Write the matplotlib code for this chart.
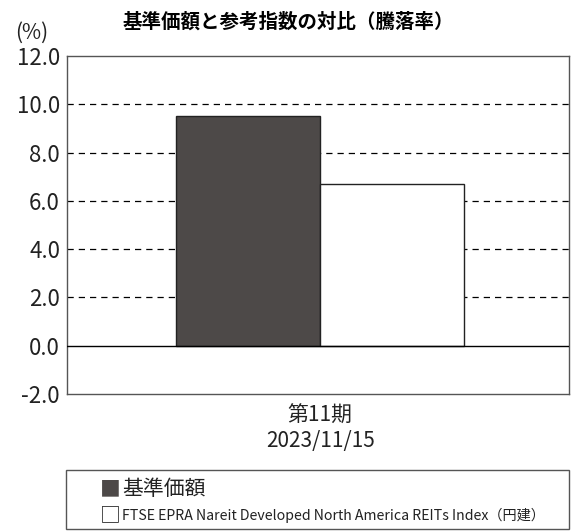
import matplotlib.pyplot as plt
from matplotlib.patches import Rectangle

plt.rcParams['font.family'] = ['Noto Sans CJK JP', 'DejaVu Sans']

# data
period = ["第11期\n2023/11/15"]
series_names = ["基準価額", "FTSE EPRA Nareit Developed North America REITs Index（円建）"]
fund = [9.5]
index = [6.7]
yticks = [-2.0, 0.0, 2.0, 4.0, 6.0, 8.0, 10.0, 12.0]

fig = plt.figure(figsize=(5.76, 5.31), dpi=100)
ax = fig.add_axes([67 / 576, 137 / 531, 502 / 576, 338 / 531])

w = 0.4
x = list(range(len(period)))
ax.bar([i - w / 2 for i in x], fund, width=w, color="#4d4948",
       edgecolor="#222222", linewidth=1, zorder=3)
ax.bar([i + w / 2 for i in x], index, width=w, color="white",
       edgecolor="#222222", linewidth=1, zorder=3)

ax.set_xlim(-0.703, 0.691)
ax.set_ylim(-2, 12)
ax.set_yticks(yticks)
ax.set_yticklabels([f"{v:.1f}" for v in yticks], fontsize=16, color="#222222")
ax.set_xticks(x)
ax.set_xticklabels(period, fontsize=15, linespacing=1.15, color="#222222")
ax.tick_params(axis="y", length=0, pad=5)
ax.tick_params(axis="x", length=0, pad=8)

for v in yticks[2:-1]:
    ax.axhline(v, color="black", linestyle=(0, (5, 4)), linewidth=0.9, zorder=1)
ax.axhline(0, color="black", linewidth=1, zorder=4)

for s in ax.spines.values():
    s.set_color("#555555")
    s.set_linewidth(1)

fig.text(0.5, 1 - 22 / 531, "基準価額と参考指数の対比（騰落率）",
         ha="center", va="center", fontsize=14, fontweight="bold")
fig.text(32 / 576, 1 - 33 / 531, "(%)", ha="center", va="center", fontsize=15,
         color="#222222")

# legend box
fig.patches.append(Rectangle((66 / 576, 2 / 531), 503 / 576, 59 / 531,
                             transform=fig.transFigure, fill=False,
                             edgecolor="#555555", linewidth=1))
fig.text(100 / 576, 1 - 489 / 531, "■", ha="left", va="center", fontsize=15,
         color="#4d4948")
fig.text(122 / 576, 1 - 489 / 531, series_names[0], ha="left", va="center",
         fontsize=15, color="#222222")
fig.text(100 / 576, 1 - 515 / 531, "□", ha="left", va="center", fontsize=15,
         color="#222222")
fig.text(122 / 576, 1 - 515 / 531, series_names[1], ha="left", va="center",
         fontsize=10.2, color="#222222")

fig.savefig("out.png", dpi=100)
